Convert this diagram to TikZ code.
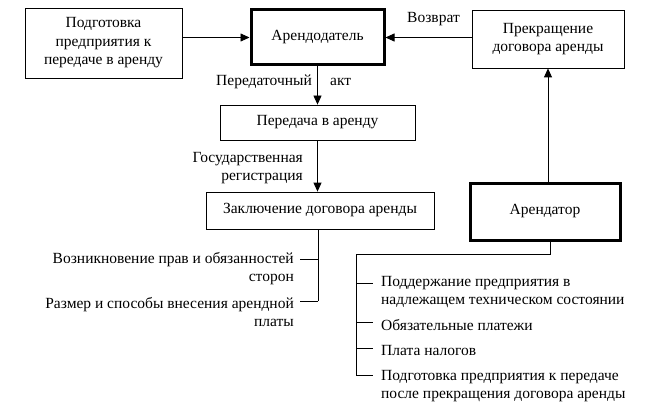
\documentclass[tikz,border=0pt]{standalone}
\usepackage{fontspec}
\setmainfont{Liberation Serif}
\usetikzlibrary{arrows.meta}
\begin{document}
\begin{tikzpicture}[x=1pt,y=-1pt,
    box/.style={draw,line width=0.8pt,inner sep=0pt,align=center,
      font=\fontsize{15.5}{18.5}\selectfont},
    mainbox/.style={box,line width=3pt},
    lbl/.style={inner sep=0pt,font=\fontsize{15.5}{18}\selectfont},
    arr/.style={line width=0.8pt,-{Triangle[length=9pt,width=8pt]}}]
  \useasboundingbox (0,0) rectangle (657,420);
  \node[box,minimum width=157pt,minimum height=70pt] (podgot) at (103.5,43)
    {Подготовка\\предприятия к\\передаче в аренду};
  \node[mainbox,minimum width=133pt,minimum height=55pt] (arendodatel) at (317.5,37.5)
    {Арендодатель};
  \node[box,minimum width=152pt,minimum height=58pt] (prekr) at (548,39)
    {Прекращение\\договора аренды};
  \node[box,minimum width=195pt,minimum height=35pt] (peredacha) at (317.5,122.5)
    {Передача в аренду};
  \node[box,minimum width=228pt,minimum height=37pt] (zakl) at (320,210.5)
    {Заключение договора аренды};
  \node[mainbox,minimum width=150pt,minimum height=57pt] (arendator) at (545,211.5)
    {Арендатор};
  % labels on arrows
  \node[lbl,anchor=base east] (akt1) at (312,86) {Передаточный};
  \node[lbl,anchor=base west] (akt2) at (330,86) {акт};
  \node[lbl,anchor=base] (vozvrat) at (433.5,23) {Возврат};
  \node[lbl,anchor=base east,align=right] (gosreg) at (303,181)
    {Государственная\\регистрация};
  % lists
  \node[lbl,anchor=base east,align=right] (prava) at (294,281)
    {Возникновение прав и обязанностей\\сторон};
  \node[lbl,anchor=base east,align=right] (razmer) at (294,326)
    {Размер и способы внесения арендной\\платы};
  \node[lbl,anchor=base west,align=left] (podderzh) at (381,304)
    {Поддержание предприятия в\\надлежащем техническом состоянии};
  \node[lbl,anchor=base west] (platezhi) at (381,330) {Обязательные платежи};
  \node[lbl,anchor=base west] (nalogi) at (381,355) {Плата налогов};
  \node[lbl,anchor=base west,align=left] (podgotpr) at (381,398)
    {Подготовка предприятия к передаче\\после прекращения договора аренды};
  \coordinate (l1) at (318,259);
  \coordinate (l2) at (318,301);
  \coordinate (r0) at (550,254);
  \coordinate (r1) at (356,283);
  \coordinate (r2) at (356,322);
  \coordinate (r3) at (356,348);
  \coordinate (r4) at (356,375);
  \begin{scope}[arr]
    \draw (podgot.east |- arendodatel.west) to (arendodatel.west);
    \draw (prekr.west |- arendodatel.east) to (arendodatel.east);
    \draw (arendodatel.south) to (peredacha.north);
    \draw (peredacha.south) to (peredacha.south |- zakl.north);
    \draw (arendator.north -| prekr.south) to (prekr.south);
  \end{scope}
  \begin{scope}[line width=0.8pt]
    \draw (zakl.south -| l1) to (l2);
    \draw (l1) to ++(-18,0);
    \draw (l2) to ++(-18,0);
    \draw (arendator.south -| r0) to (r0) -| (r4);
    \draw (r1) to ++(17,0);
    \draw (r2) to ++(17,0);
    \draw (r3) to ++(17,0);
    \draw (r4) to ++(17,0);
  \end{scope}
\end{tikzpicture}
\end{document}
